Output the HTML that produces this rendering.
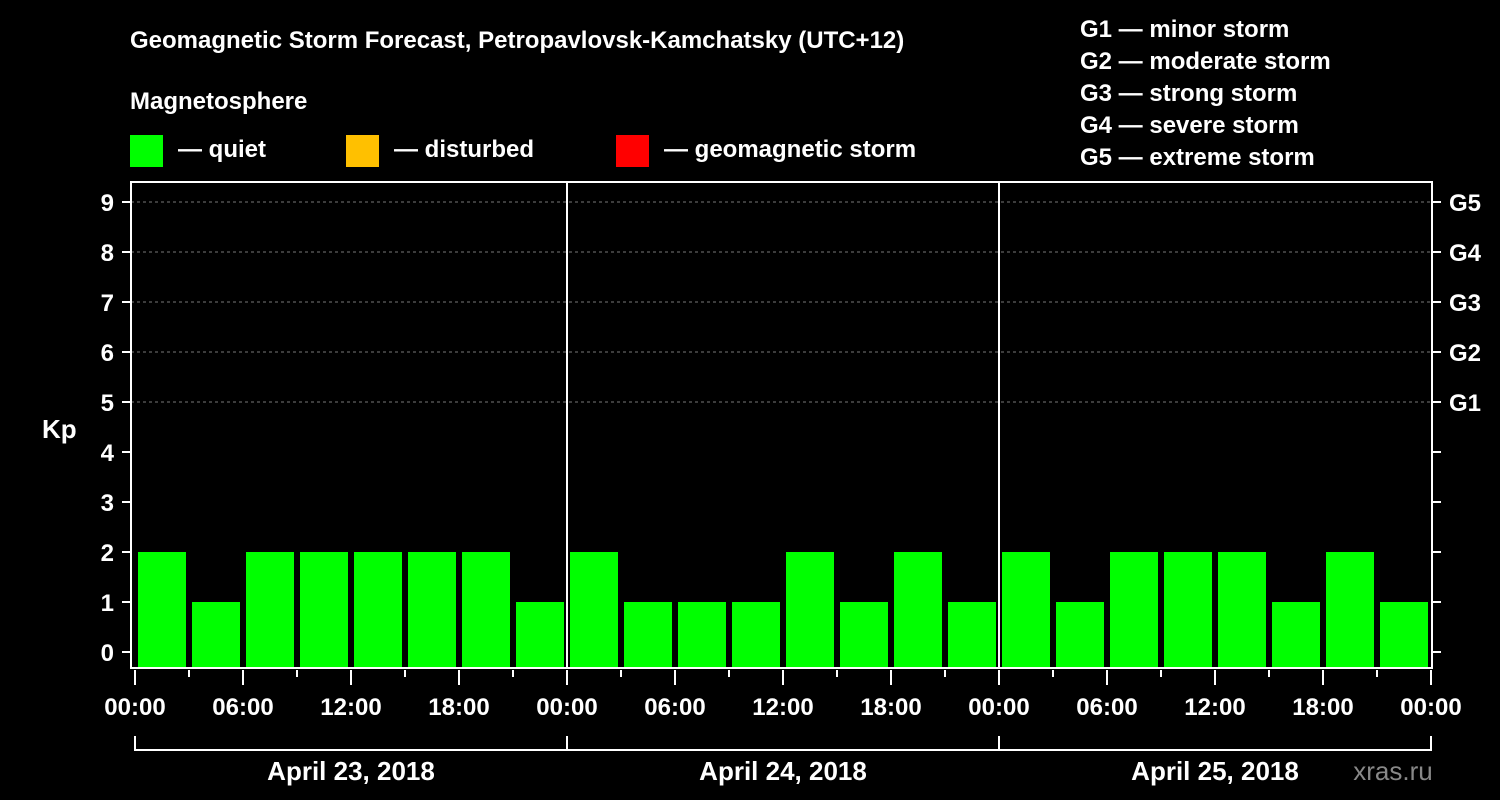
<!DOCTYPE html>
<html><head><meta charset="utf-8"><style>
body{margin:0;background:#000;}
svg{display:block;font-family:"Liberation Sans",Arial,sans-serif;font-weight:bold;}
</style></head><body>
<svg id="c" width="1500" height="800" xmlns="http://www.w3.org/2000/svg">
<rect width="1500" height="800" fill="#000"/>
<text x="130" y="48" fill="#fff" font-size="24">Geomagnetic Storm Forecast, Petropavlovsk-Kamchatsky (UTC+12)</text>
<text x="130" y="109" fill="#fff" font-size="24">Magnetosphere</text>
<g><rect x="130" y="135" width="33" height="32" fill="#00ff00"/><text x="178" y="157" fill="#fff" font-size="24">— quiet</text></g>
<g><rect x="346" y="135" width="33" height="32" fill="#ffc000"/><text x="394" y="157" fill="#fff" font-size="24">— disturbed</text></g>
<g><rect x="616" y="135" width="33" height="32" fill="#ff0000"/><text x="664" y="157" fill="#fff" font-size="24">— geomagnetic storm</text></g>
<g fill="#fff" font-size="24">
<text x="1080" y="37">G1 — minor storm</text><text x="1080" y="69">G2 — moderate storm</text><text x="1080" y="101">G3 — strong storm</text><text x="1080" y="133">G4 — severe storm</text><text x="1080" y="165">G5 — extreme storm</text></g>
<text x="42" y="438" fill="#fff" font-size="26">Kp</text>
<g id="grid"></g><g id="bars"></g><g id="axes"></g>
<text x="1393" y="780" fill="#888" font-size="26" font-weight="normal" text-anchor="middle">xras.ru</text>
</svg>
<script>
const days=["April 23, 2018","April 24, 2018","April 25, 2018"];
const kpValues=[2,1,2,2,2,2,2,1, 2,1,1,1,2,1,2,1, 2,1,2,2,2,1,2,1];
const yTicks=[0,1,2,3,4,5,6,7,8,9];
const gLabels=["G1","G2","G3","G4","G5"];
const xTickLabels=["00:00","06:00","12:00","18:00"];
const NS="http://www.w3.org/2000/svg";
const x0=135,dayW=432,slotW=54,y0=652,unit=50,plotTop=182,plotBot=668,plotL=131,plotR=1432;
const X=h=>x0+h/24*dayW, Y=v=>y0-v*unit;
function mk(t,a,p,txt){const e=document.createElementNS(NS,t);for(const k in a)e.setAttribute(k,a[k]);if(txt!==undefined)e.textContent=txt;p.appendChild(e);return e;}
const grid=document.getElementById('grid'),bars=document.getElementById('bars'),axes=document.getElementById('axes');
yTicks.forEach(v=>{if(v>=5){const l=mk('line',{x1:plotL,x2:plotR,y1:Y(v),y2:Y(v),stroke:'#777','stroke-dasharray':'3,3'},grid);

}});
kpValues.forEach((v,i)=>{const r=mk('rect',{x:X(i*3)+3,y:Y(v),width:slotW-6,height:plotBot-1-Y(v),fill:v>=5?'#ff0000':(v>=4?'#ffc000':'#00ff00')},bars);

});
// axes frame
const fr=mk('rect',{x:plotL,y:plotTop,width:plotR-plotL,height:plotBot-plotTop,fill:'none',stroke:'#fff','stroke-width':2},axes);


[1,2].forEach(d=>{const l=mk('line',{x1:X(d*24),x2:X(d*24),y1:plotTop,y2:plotBot,stroke:'#fff','stroke-width':2},axes);

});
yTicks.forEach(v=>{mk('line',{x1:122,x2:plotL,y1:Y(v),y2:Y(v),stroke:'#fff','stroke-width':2},axes);
mk('line',{x1:plotR,x2:1441,y1:Y(v),y2:Y(v),stroke:'#fff','stroke-width':2},axes);
const t=mk('text',{x:114,y:Y(v)+9,fill:'#fff','font-size':24,'text-anchor':'end'},axes,String(v));

});
gLabels.forEach((g,i)=>{const t=mk('text',{x:1449,y:Y(5+i)+9,fill:'#fff','font-size':24},axes,g);

});
for(let h=0;h<=72;h+=3){const major=h%6===0;mk('line',{x1:X(h),x2:X(h),y1:plotBot+2,y2:plotBot+(major?17:9),stroke:'#fff','stroke-width':2},axes);
if(major){const t=mk('text',{x:X(h),y:715,fill:'#fff','font-size':24,'text-anchor':'middle'},axes,xTickLabels[(h/6)%4]);

}}
days.forEach((d,i)=>{const a=X(i*24),b=X((i+1)*24);
mk('path',{d:`M${a} 736V750H${b}`+(i===2?'V736':''),stroke:'#fff','stroke-width':2,fill:'none'},axes);
const t=mk('text',{x:(a+b)/2,y:780,fill:'#fff','font-size':26,'text-anchor':'middle'},axes,d);

});
</script>
</body></html>
